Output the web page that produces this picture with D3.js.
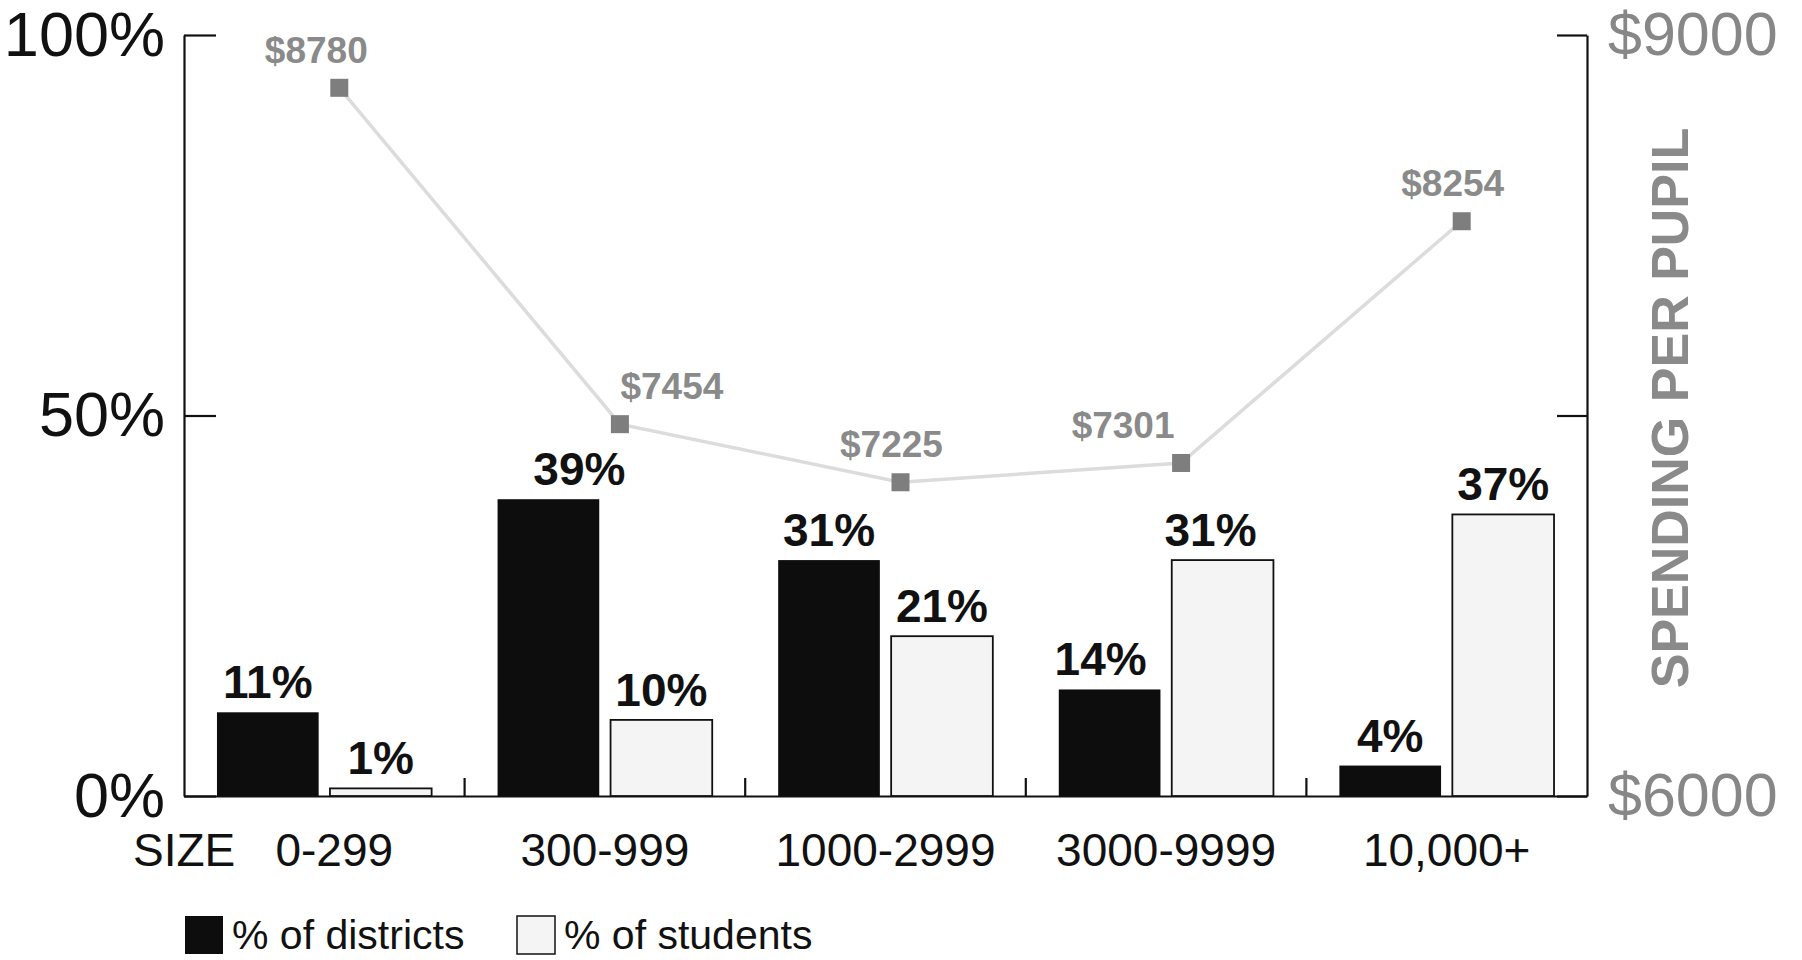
<!DOCTYPE html>
<html>
<head>
<meta charset="utf-8">
<script src="https://cdn.jsdelivr.net/npm/d3@7"></script>
<style>
  body { margin: 0; background: #fff; }
  text { font-family: "Liberation Sans", Arial, Helvetica, sans-serif; }
</style>
</head>
<body>
<div id="viz"></div>
<script>
// chart values
const categories = ["0-299", "300-999", "1000-2999", "3000-9999", "10,000+"];
const seriesNames = ["% of districts", "% of students"];
const pctDistricts = [11, 39, 31, 14, 4];
const pctStudents = [1, 10, 21, 31, 37];
const spending = [8780, 7454, 7225, 7301, 8254];
const pctTicks = [0, 50, 100];
const dollarLabels = ["$6000", "", "$9000"];

const width = 1802, height = 960;
const plotLeft = 184, plotRight = 1587, plotTop = 35, plotBottom = 796;

const svg = d3.select("#viz").append("svg")
  .attr("width", width)
  .attr("height", height);

const x = d3.scaleBand()
  .domain(categories)
  .range([plotLeft, plotRight])
  .paddingInner(0.235)
  .paddingOuter(0.1175);

const xSub = d3.scaleBand()
  .domain(seriesNames)
  .range([0, x.bandwidth()])
  .paddingInner(0.1);

const y = d3.scaleLinear().domain([0, 100]).range([plotBottom, plotTop]);
// the scan sits a little higher on the right-hand scale
const yR = d3.scaleLinear().domain([6000, 9000]).range([plotBottom - 3, plotTop - 3]);

const step = x.step();

// left axis (ticks point inward)
const gL = svg.append("g")
  .attr("transform", `translate(${plotLeft},0)`)
  .call(d3.axisLeft(y).tickValues(pctTicks).tickFormat(d => d + "%")
    .tickSizeInner(-32).tickSizeOuter(0).tickPadding(19));
gL.selectAll("text").attr("font-size", 63).attr("fill", "#111").attr("font-family", null);
gL.selectAll("line, path").attr("stroke", "#111").attr("stroke-width", 2.2);

// right axis: $6000 at the bottom, $9000 at the top, bare tick at mid-height
const gR = svg.append("g")
  .attr("transform", `translate(${plotRight},0)`)
  .call(d3.axisRight(y).tickValues(pctTicks)
    .tickFormat((d, i) => dollarLabels[i])
    .tickSizeInner(-30).tickSizeOuter(0).tickPadding(21));
gR.selectAll("text").attr("font-size", 61).attr("fill", "#878787").attr("font-family", null);
gR.selectAll("line, path").attr("stroke", "#111").attr("stroke-width", 2.2);

// bottom axis
const gB = svg.append("g")
  .attr("transform", `translate(0,${plotBottom})`)
  .call(d3.axisBottom(x).tickSize(0).tickPadding(37));
gB.select(".domain").attr("stroke", "#111").attr("stroke-width", 2.2);
gB.selectAll("text").attr("font-size", 46).attr("fill", "#111").attr("font-family", null)
  .attr("dx", (d, i) => i === 0 ? 10 : 0);

// group separators
svg.append("g").selectAll("line")
  .data(categories.slice(1))
  .join("line")
  .attr("x1", d => x(d) - step * x.paddingInner() / 2)
  .attr("x2", d => x(d) - step * x.paddingInner() / 2)
  .attr("y1", plotBottom - 18)
  .attr("y2", plotBottom)
  .attr("stroke", "#111")
  .attr("stroke-width", 2.2);

svg.append("text")
  .attr("x", 133).attr("y", 866)
  .attr("font-size", 46).attr("fill", "#111")
  .text("SIZE");

// bars
const rows = categories.map((c, i) => ({ cat: c, vals: [pctDistricts[i], pctStudents[i]] }));
const fills = ["#0d0d0d", "#f4f4f4"];
// nudges of the value labels as set in the original
const valueDx = [[0, 0], [31, 0], [0, 0], [-9, -12], [0, 0]];

const groups = svg.append("g").selectAll("g")
  .data(rows)
  .join("g")
  .attr("transform", d => `translate(${x(d.cat)},0)`);

groups.selectAll("rect")
  .data(d => d.vals.map((v, j) => ({ name: seriesNames[j], v: v, j: j })))
  .join("rect")
  .attr("x", d => xSub(d.name))
  .attr("y", d => y(d.v))
  .attr("width", xSub.bandwidth())
  .attr("height", d => y(0) - y(d.v))
  .attr("fill", d => fills[d.j])
  .attr("stroke", "#111")
  .attr("stroke-width", d => d.j === 1 ? 1.8 : 0);

groups.selectAll("text")
  .data((d, i) => d.vals.map((v, j) => ({ name: seriesNames[j], v: v, dx: valueDx[i][j] })))
  .join("text")
  .attr("x", d => xSub(d.name) + xSub.bandwidth() / 2 + d.dx)
  .attr("y", d => y(d.v) - 14)
  .attr("text-anchor", "middle")
  .attr("font-size", 46)
  .attr("font-weight", "bold")
  .attr("fill", "#111")
  .text(d => d.v + "%");

// spending line
const pts = categories.map((c, i) => ({ x: x(c) + x.bandwidth() / 2 + 15, y: yR(spending[i]), v: spending[i] }));
const labelDx = [-23, 52, -9, -58, -9];

svg.append("path")
  .datum(pts)
  .attr("d", d3.line().x(d => d.x).y(d => d.y))
  .attr("fill", "none")
  .attr("stroke", "#dcdcdc")
  .attr("stroke-width", 3.5);

svg.append("g").selectAll("rect")
  .data(pts)
  .join("rect")
  .attr("x", d => d.x - 9)
  .attr("y", d => d.y - 9)
  .attr("width", 18)
  .attr("height", 18)
  .attr("fill", "#7e7e7e");

svg.append("g").selectAll("text")
  .data(pts)
  .join("text")
  .attr("x", (d, i) => d.x + labelDx[i])
  .attr("y", d => d.y - 25)
  .attr("text-anchor", "middle")
  .attr("font-size", 37)
  .attr("font-weight", "bold")
  .attr("fill", "#8a8a8a")
  .text(d => "$" + d.v);

svg.append("text")
  .attr("transform", "translate(1688,408) rotate(-90)")
  .attr("text-anchor", "middle")
  .attr("font-size", 52)
  .attr("font-weight", "bold")
  .attr("fill", "#8a8a8a")
  .text("SPENDING PER PUPIL");

// legend
const legend = svg.append("g").selectAll("g")
  .data(seriesNames)
  .join("g")
  .attr("transform", (d, i) => `translate(${i === 0 ? 185 : 517},916)`);

legend.append("rect")
  .attr("width", 38)
  .attr("height", 38)
  .attr("fill", (d, i) => fills[i])
  .attr("stroke", "#111")
  .attr("stroke-width", (d, i) => i === 1 ? 1.5 : 0);

legend.append("text")
  .attr("x", 47)
  .attr("y", 33)
  .attr("font-size", 41)
  .attr("fill", "#111")
  .text(d => d);
</script>
</body>
</html>
